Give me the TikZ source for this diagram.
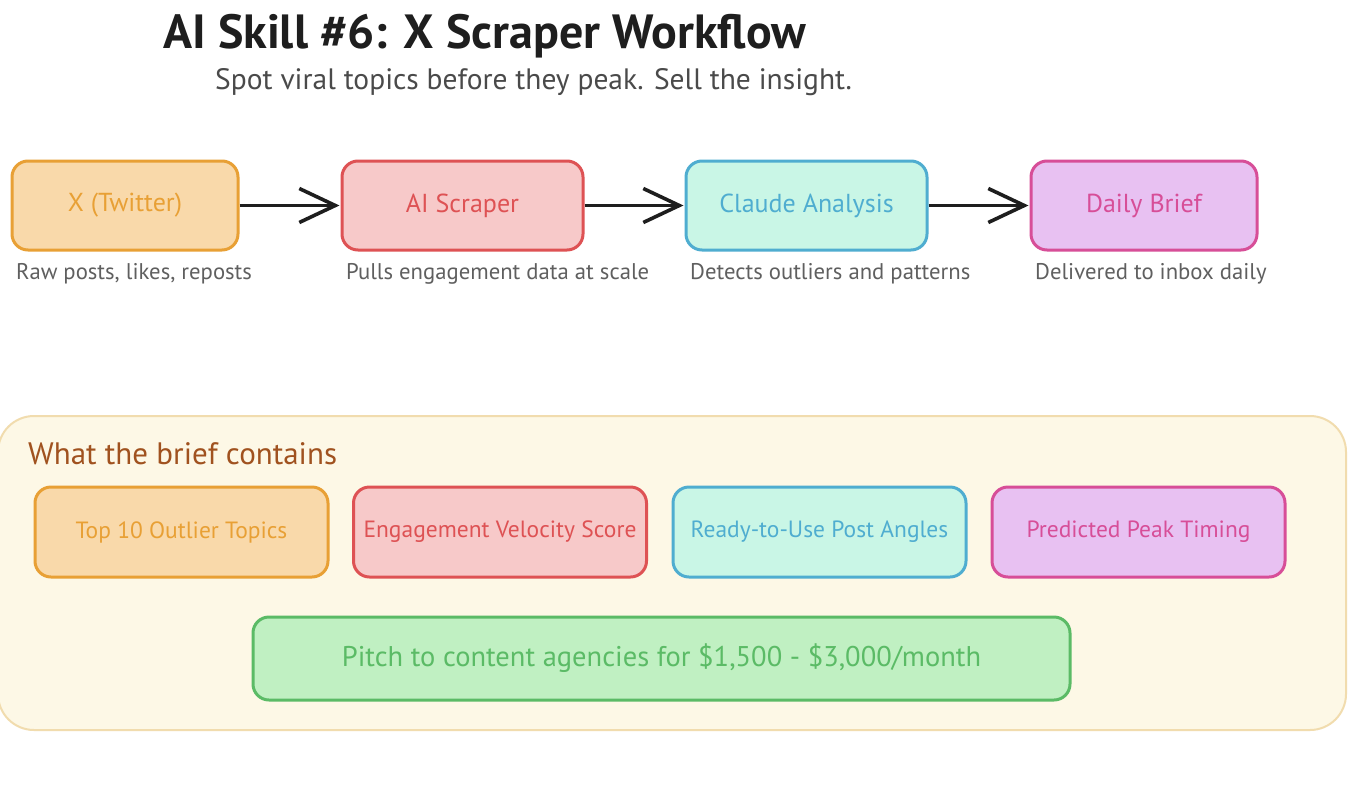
\documentclass[tikz,border=0pt]{standalone}
\usepackage{fontspec}
\setmainfont{PT Sans}
\usetikzlibrary{arrows.meta}
\definecolor{orfill}{HTML}{F9D9AA}
\definecolor{ordraw}{HTML}{E8A035}
\definecolor{rdfill}{HTML}{F7C9C9}
\definecolor{rddraw}{HTML}{DE5254}
\definecolor{cyfill}{HTML}{C9F6E6}
\definecolor{cydraw}{HTML}{4FADD0}
\definecolor{pkfill}{HTML}{E8C1F2}
\definecolor{pkdraw}{HTML}{D74E98}
\definecolor{grfill}{HTML}{C0F0C2}
\definecolor{grdraw}{HTML}{5BBB66}
\definecolor{contfill}{HTML}{FDF8E6}
\definecolor{contdraw}{HTML}{F1DCAE}
\definecolor{brown}{HTML}{A0521F}
\definecolor{titlec}{HTML}{1E1E1E}
\definecolor{subc}{HTML}{4A4A4A}
\definecolor{capc}{HTML}{5F5F5F}
\tikzset{
  box/.style={draw, line width=3pt, rounded corners=16pt, align=center, inner sep=0pt},
  flowbox/.style={box, minimum width=226pt, minimum height=89pt, font=\fontsize{26}{30}\selectfont},
  itembox/.style={box, minimum width=293pt, minimum height=90pt, font=\fontsize{23.5}{28}\selectfont},
  caption/.style={anchor=west, text=capc, inner sep=0pt, font=\fontsize{22.7}{26}\selectfont},
  flow/.style={line width=3.6pt, draw=titlec, -{Straight Barb[length=36pt,width=34pt,line width=3.6pt]}, shorten >=1pt},
}
\begin{document}
\begin{tikzpicture}[x=1pt,y=-1pt]
\useasboundingbox (0,0) rectangle (1354,806);
\fill[white] (0,0) rectangle (1354,806);

% titles
\node[anchor=base west, inner sep=0pt, text=titlec, font=\fontsize{48}{52}\selectfont\bfseries] (title) at (163,48) {AI Skill \#6: X Scraper Workflow};
\node[anchor=base west, inner sep=0pt, text=subc, font=\fontsize{29.5}{32}\selectfont] (subtitle) at (215,89) {Spot viral topics before they peak. Sell the insight.};

% flow boxes
\node[flowbox, fill=orfill, draw=ordraw, text=ordraw, minimum width=226pt] (tw) at (125,205.5) {X (Twitter)};
\node[flowbox, fill=rdfill, draw=rddraw, text=rddraw, minimum width=241pt] (sc) at (462.5,205.5) {AI Scraper};
\node[flowbox, fill=cyfill, draw=cydraw, text=cydraw, minimum width=241pt] (cl) at (806.5,205.5) {Claude Analysis};
\node[flowbox, fill=pkfill, draw=pkdraw, text=pkdraw, minimum width=226pt] (db) at (1144,205.5) {Daily Brief};

\draw[flow] (tw) -- (sc);
\draw[flow] (sc) -- (cl);
\draw[flow] (cl) -- (db);

\node[caption] (c1) at (16,274) {Raw posts, likes, reposts};
\node[caption] (c2) at (346,274) {Pulls engagement data at scale};
\node[caption] (c3) at (690,274) {Detects outliers and patterns};
\node[caption] (c4) at (1035,274) {Delivered to inbox daily};

% container
\draw[fill=contfill, draw=contdraw, line width=2pt, rounded corners=36pt] (-2,416) rectangle (1346,730);
\node[anchor=base west, inner sep=0pt, text=brown, font=\fontsize{31}{34}\selectfont] (what) at (28,464) {What the brief contains};

\node[itembox, fill=orfill, draw=ordraw, text=ordraw] (i1) at (181.5,532) {Top 10 Outlier Topics};
\node[itembox, fill=rdfill, draw=rddraw, text=rddraw] (i2) at (500,532) {Engagement Velocity Score};
\node[itembox, fill=cyfill, draw=cydraw, text=cydraw] (i3) at (819.5,532) {Ready-to-Use Post Angles};
\node[itembox, fill=pkfill, draw=pkdraw, text=pkdraw] (i4) at (1138.5,532) {Predicted Peak Timing};

\node[box, fill=grfill, draw=grdraw, text=grdraw, minimum width=817pt, minimum height=83pt, font=\fontsize{28.5}{32}\selectfont] (pitch) at (661.5,658.5) {Pitch to content agencies for \$1,500 - \$3,000/month};
\end{tikzpicture}
\end{document}
